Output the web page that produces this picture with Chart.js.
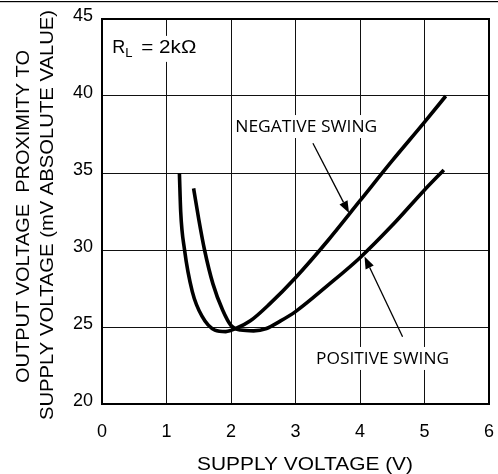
<!DOCTYPE html>
<html>
<head>
<meta charset="utf-8">
<script src="https://cdn.jsdelivr.net/npm/chart.js@4"></script>
<style>
  body { margin: 0; background: #fff; }
  #wrap { width: 498px; height: 474px; }
</style>
</head>
<body>
<div id="wrap"><canvas id="myChart" width="498" height="474"></canvas></div>
<script>
// supply voltage (V) -> proximity (mV)
const negSwingV = [1.20, 1.22, 1.28, 1.40, 1.55, 1.75, 1.92, 2.10, 2.30, 2.60, 3.00, 3.50, 4.00, 4.50, 5.00, 5.33];
const negSwingMv = [35.0, 32.5, 30.0, 27.3, 25.7, 24.8, 24.7, 24.95, 25.4, 26.5, 28.2, 30.6, 33.2, 35.8, 38.3, 40.0];
const posSwingV = [1.42, 1.50, 1.59, 1.72, 1.87, 2.00, 2.15, 2.35, 2.55, 2.75, 3.00, 3.50, 4.00, 4.50, 5.00, 5.30];
const posSwingMv = [34.0, 32.0, 30.0, 27.8, 26.1, 25.1, 24.8, 24.75, 24.9, 25.35, 26.0, 27.7, 29.5, 31.6, 33.9, 35.2];

const xTicks = [0, 1, 2, 3, 4, 5, 6];
const yTicks = [20, 25, 30, 35, 40, 45];

const xTitle = "SUPPLY VOLTAGE (V)";
const yTitle1 = "OUTPUT VOLTAGE  PROXIMITY TO";
const yTitle2 = "SUPPLY VOLTAGE (mV ABSOLUTE VALUE)";

// labels and arrows, in data units
const swingLabels = [
  { text: "NEGATIVE SWING", x: 3.167, y: 37.66, w: 142 },
  { text: "POSITIVE SWING", x: 4.35, y: 22.6, w: 133 }
];
const arrows = [
  { from: [3.27, 36.93], to: [3.83, 32.4] },
  { from: [4.66, 24.37], to: [4.07, 29.57] }
];

const toPoints = (xs, ys) => xs.map((x, i) => ({ x: x, y: ys[i] }));

const ARIAL = "Arial, 'Liberation Sans', sans-serif";

function fitText(ctx, text, x, y, targetW, rotate) {
  ctx.save();
  ctx.translate(x, y);
  if (rotate) ctx.rotate(-Math.PI / 2);
  const w = ctx.measureText(text).width;
  ctx.scale(targetW / w, 1);
  ctx.fillText(text, 0, 0);
  ctx.restore();
}

const decorPlugin = {
  id: "decor",
  afterDraw(chart) {
    const ctx = chart.ctx;
    const xs = chart.scales.x, ys = chart.scales.y;
    const area = chart.chartArea;
    ctx.save();

    // frame round the plot
    ctx.strokeStyle = "#000";
    ctx.lineWidth = 2;
    ctx.strokeRect(area.left, area.top, area.right - area.left, area.bottom - area.top);

    // thin rule at top of picture
    ctx.fillStyle = "#000";
    ctx.fillRect(0, 1, 498, 1.2);

    // axis titles
    ctx.fillStyle = "#000";
    ctx.textAlign = "center";
    ctx.textBaseline = "alphabetic";
    ctx.font = "18px " + ARIAL;
    fitText(ctx, xTitle, 305, 470, 216, false);
    fitText(ctx, yTitle1, 28.5, 216.5, 333, true);
    fitText(ctx, yTitle2, 53, 215, 410, true);

    // R_L = 2kΩ box
    const rx = xs.getPixelForValue(0.16), ry = ys.getPixelForValue(42.8);
    ctx.fillStyle = "#fff";
    ctx.fillRect(rx - 3, ry - 17, 92, 26);
    ctx.fillStyle = "#000";
    ctx.textAlign = "left";
    ctx.font = "18px " + ARIAL;
    ctx.fillText("R", rx, ry);
    ctx.font = "13px " + ARIAL;
    ctx.fillText("L", rx + 13, ry + 4);
    ctx.font = "18px " + ARIAL;
    ctx.textAlign = "center";
    fitText(ctx, "= 2kΩ", rx + 56.5, ry, 55, false);

    // swing labels
    ctx.font = "17px 'Open Sans', sans-serif";
    swingLabels.forEach(l => {
      const px = xs.getPixelForValue(l.x), py = ys.getPixelForValue(l.y);
      ctx.fillStyle = "#fff";
      ctx.fillRect(px - l.w / 2 - 3, py - 17, l.w + 6, 23);
      ctx.fillStyle = "#000";
      fitText(ctx, l.text, px, py, l.w, false);
    });

    // arrows
    ctx.strokeStyle = "#000";
    ctx.fillStyle = "#000";
    ctx.lineWidth = 1.3;
    arrows.forEach(a => {
      const x0 = xs.getPixelForValue(a.from[0]), y0 = ys.getPixelForValue(a.from[1]);
      const x1 = xs.getPixelForValue(a.to[0]), y1 = ys.getPixelForValue(a.to[1]);
      const ang = Math.atan2(y1 - y0, x1 - x0);
      const len = 12, half = 4.5;
      const bx = x1 - len * Math.cos(ang), by = y1 - len * Math.sin(ang);
      ctx.beginPath();
      ctx.moveTo(x0, y0);
      ctx.lineTo(bx, by);
      ctx.stroke();
      ctx.beginPath();
      ctx.moveTo(x1, y1);
      ctx.lineTo(bx + half * Math.sin(ang), by - half * Math.cos(ang));
      ctx.lineTo(bx - half * Math.sin(ang), by + half * Math.cos(ang));
      ctx.closePath();
      ctx.fill();
    });
    ctx.restore();
  }
};

const ctx = document.getElementById("myChart").getContext("2d");
new Chart(ctx, {
  type: "scatter",
  data: {
    datasets: [
      {
        label: "Negative swing",
        data: toPoints(negSwingV, negSwingMv),
        showLine: true,
        borderColor: "#000",
        borderWidth: 3.6,
        pointRadius: 0,
        cubicInterpolationMode: "monotone"
      },
      {
        label: "Positive swing",
        data: toPoints(posSwingV, posSwingMv),
        showLine: true,
        borderColor: "#000",
        borderWidth: 3.6,
        pointRadius: 0,
        cubicInterpolationMode: "monotone"
      }
    ]
  },
  options: {
    responsive: false,
    animation: false,
    layout: { padding: { top: 19, right: 9, left: 0, bottom: 0 } },
    plugins: {
      legend: { display: false },
      tooltip: { enabled: false }
    },
    scales: {
      x: {
        type: "linear",
        min: 0,
        max: 6,
        afterBuildTicks: s => { s.ticks = xTicks.map(v => ({ value: v })); },
        afterFit: s => { s.height = 70; s.paddingLeft = 0; s.paddingRight = 0; },
        grid: { color: "#111", lineWidth: 1, drawTicks: false },
        border: { color: "#000", width: 2 },
        ticks: { color: "#000", font: { family: ARIAL, size: 18 }, padding: 17, maxRotation: 0 }
      },
      y: {
        min: 20,
        max: 45,
        afterBuildTicks: s => { s.ticks = yTicks.map(v => ({ value: v })); },
        afterFit: s => { s.width = 102; s.paddingTop = 0; s.paddingBottom = 0; },
        grid: { color: "#111", lineWidth: 1, drawTicks: false },
        border: { color: "#000", width: 2 },
        ticks: { color: "#000", font: { family: ARIAL, size: 18 }, padding: 9, labelOffset: -3 }
      }
    }
  },
  plugins: [decorPlugin]
});
</script>
</body>
</html>
